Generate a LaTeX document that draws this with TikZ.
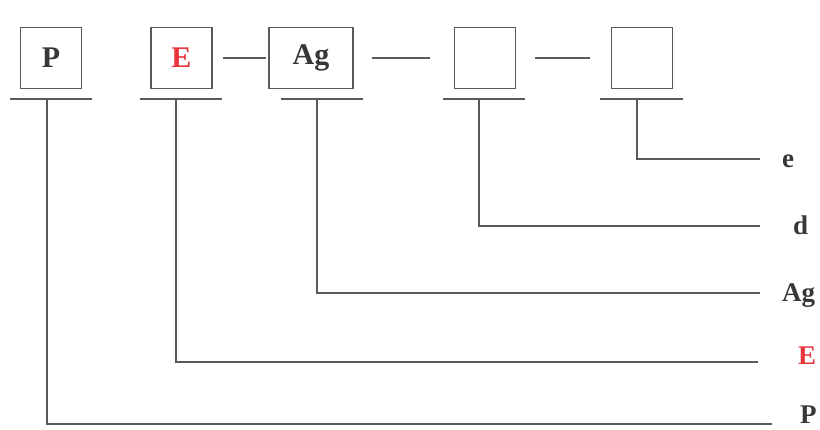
\documentclass[tikz,border=0pt]{standalone}
\usepackage{fontspec}
\setmainfont{Liberation Serif}
\definecolor{cdgray}{RGB}{90,90,90}
\definecolor{cdtext}{RGB}{55,55,55}
\definecolor{cdred}{RGB}{232,52,58}
\usetikzlibrary{positioning,calc}

\begin{document}
\begin{tikzpicture}[x=1pt,y=-1pt,
  codebox/.style={draw=cdgray, line width=1.2pt, minimum width=61pt, minimum height=61pt, inner sep=0pt, font=\fontsize{30}{30}\selectfont\bfseries, text=cdtext},
  wire/.style={cdgray, line width=1.2pt},
  tag/.style={anchor=base west, inner sep=0pt, font=\fontsize{27}{27}\selectfont\bfseries, text=cdtext}]
  \useasboundingbox (0,0) rectangle (820,430);
  % Code boxes
  \node[codebox] (bP) at (51,58) {P};
  \node[codebox, text=cdred] (bE) at (181.5,58) {E};
  \node[codebox, minimum width=84pt] (bAg) at (311,58) {Ag};
  \node[codebox] (bD) at (485,58) {};
  \node[codebox] (bEe) at (642,58) {};
  % Dashes between boxes
  \draw[wire, shorten <=10pt, shorten >=2pt] (bE) -- (bAg);
  \draw[wire, shorten <=18pt, shorten >=24pt] (bAg) -- (bD);
  \draw[wire, shorten <=19pt, shorten >=21pt] (bD) -- (bEe);
  % Underlines
  \draw[wire] (10,99) -- (92,99);
  \draw[wire] (140,99) -- (222,99);
  \draw[wire] (281,99) -- (363,99);
  \draw[wire] (443,99) -- (525,99);
  \draw[wire] (600,99) -- (683,99);
  % Drop points
  \coordinate (uP) at (47,99);
  \coordinate (uE) at (176,99);
  \coordinate (uAg) at (317,99);
  \coordinate (uD) at (479,99);
  \coordinate (uEe) at (637,99);
  % Line ends
  \coordinate (eP) at (772,424);
  \coordinate (eE) at (758,362);
  \coordinate (eAg) at (760,293);
  \coordinate (eD) at (760,226);
  \coordinate (eEe) at (760,159);
  % Labels
  \node[tag] (lEe) at (782,168) {e};
  \node[tag] (lD) at (793,235) {d};
  \node[tag] (lAg) at (782,302) {Ag};
  \node[tag, text=cdred] (lE) at (798,365) {E};
  \node[tag] (lP) at (800,424) {P};
  % Leaders
  \draw[wire] (uP) |- (eP);
  \draw[wire] (uE) |- (eE);
  \draw[wire] (uAg) |- (eAg);
  \draw[wire] (uD) |- (eD);
  \draw[wire] (uEe) |- (eEe);
\end{tikzpicture}
\end{document}
